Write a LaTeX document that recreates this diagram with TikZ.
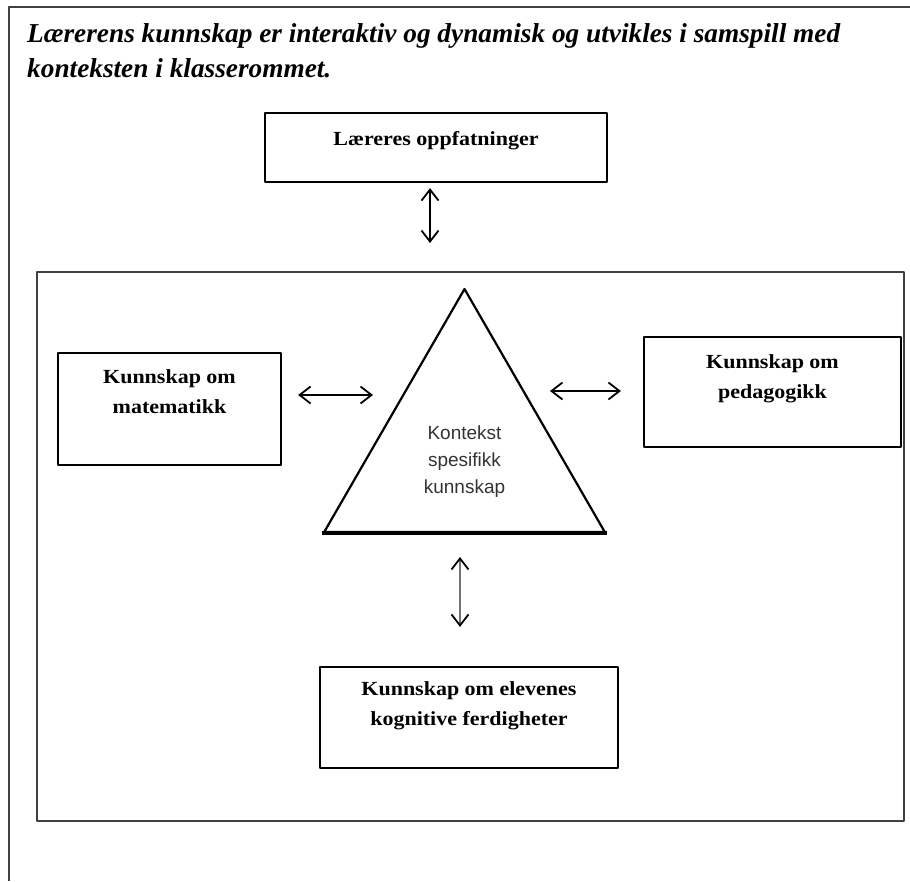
\documentclass[tikz,border=0pt]{standalone}
\usepackage{fontspec}
\setmainfont{Liberation Serif}
\newfontfamily\titlefont{Liberation Serif}
\newfontfamily\boxfont[FakeStretch=1.1]{Liberation Serif}
\newfontfamily\trifont{Liberation Sans}
\usetikzlibrary{arrows.meta,positioning,shapes.geometric}
\begin{document}
\begin{tikzpicture}[x=1pt,y=-1pt,line join=round,
  dub/.style={{Straight Barb[length=11pt,width=17pt,color=black]}-{Straight Barb[length=11pt,width=17pt,color=black]},line width=1.8pt},
  kbox/.style={draw,line width=2.2pt,inner sep=0pt},
  ktext/.style={font=\boxfont\bfseries\fontsize{20}{30}\selectfont,align=center,inner sep=0pt},
  frame/.style={draw=black!75,line width=2.2pt}]
\useasboundingbox (0,0) rectangle (910,881);
% frames
\draw[frame] (9,881)--(9,7)--(910,7);
\draw[frame] (37,272) rectangle (904,821);
\node[anchor=north west,inner sep=0pt,align=left,font=\titlefont\bfseries\itshape\fontsize{27.3}{35}\selectfont] (title) at (27,23)
  {Lærerens kunnskap er interaktiv og dynamisk og utvikles i samspill med\\konteksten i klasserommet.};
% boxes
\node[kbox,minimum width=342pt,minimum height=69pt] (opp) at (436,147.5) {};
\node[kbox,minimum width=223pt,minimum height=112pt] (mat) at (169.5,409) {};
\node[kbox,minimum width=257pt,minimum height=110pt] (ped) at (772.5,392) {};
\node[kbox,minimum width=298pt,minimum height=101pt] (elev) at (469,717.5) {};
\node[ktext,below=19pt of opp.north] (opptxt) {Læreres oppfatninger};
\node[ktext,below=18pt of mat.north] (mattxt) {Kunnskap om\\matematikk};
\node[ktext,below=19pt of ped.north] (pedtxt) {Kunnskap om\\pedagogikk};
\node[ktext,below=16pt of elev.north] (elevtxt) {Kunnskap om elevenes\\kognitive ferdigheter};
% triangle
\node[draw,line width=2.2pt,regular polygon,regular polygon sides=3,minimum size=324pt,inner sep=0pt] (tri) at (464.5,451) {};
\draw[line width=4.5pt] (tri.corner 2) -- (tri.corner 3);
\node[align=center,inner sep=0pt,text=black!80,font=\trifont\fontsize{19}{27}\selectfont] (ctx) at ([yshift=-11pt]tri.center) {Kontekst\\spesifikk\\kunnskap};
% arrows
\coordinate (tt) at (430,243);
\coordinate (tl) at (373,395);
\coordinate (tr) at (550,391);
\coordinate (tb) at (460,557);
\draw[dub,shorten <=5pt] (opp.south -| tt) -- (tt);
\draw[dub,shorten <=16pt] (mat.east |- tl) -- (tl);
\draw[dub,shorten >=22pt] (tr) -- (ped.west |- tr);
\draw[dub,draw=black!55,shorten >=39pt] (tb) -- (elev.north -| tb);
\end{tikzpicture}
\end{document}
